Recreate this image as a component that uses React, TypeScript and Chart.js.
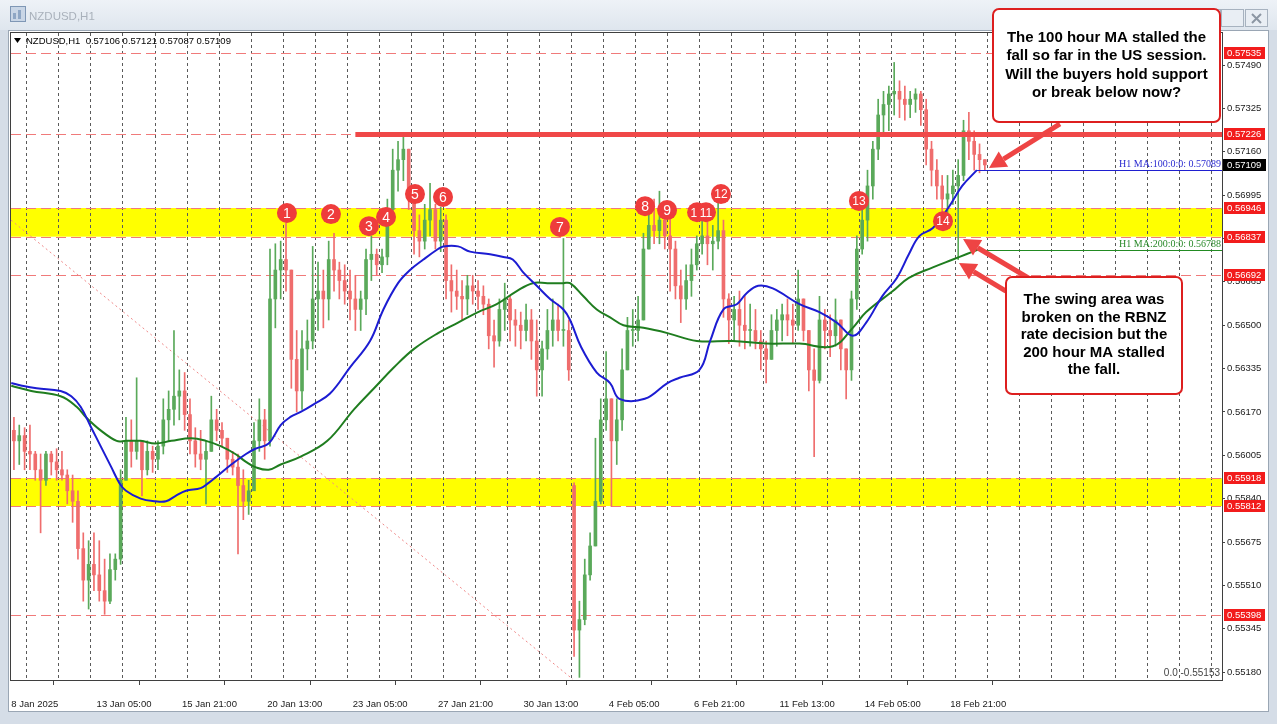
import React, { useEffect, useRef } from 'react';
import { Chart, registerables } from 'chart.js';

Chart.register(...registerables);

const W = 1277;
const H = 724;

// ---- Axis data ----
const xLabels = ['8 Jan 2025', '13 Jan 05:00', '15 Jan 21:00', '20 Jan 13:00', '23 Jan 05:00', '27 Jan 21:00', '30 Jan 13:00', '4 Feb 05:00', '6 Feb 21:00', '11 Feb 13:00', '14 Feb 05:00', '18 Feb 21:00'];
const xLabelBars = [0, 64, 128, 192, 256, 320, 384, 448, 512, 576, 640, 704];
const yTicks = [0.5518, 0.55345, 0.5551, 0.55675, 0.5584, 0.56005, 0.5617, 0.56335, 0.565, 0.56665, 0.5683, 0.56995, 0.5716, 0.57325, 0.5749];

// ---- Candles (4-hour groups of the H1 chart) ----
const HOURS_PER_CANDLE = 4;
const highs = [
  0.5615, 0.5612, 0.5611, 0.5612, 0.5602, 0.5601, 0.5602, 0.5602, 0.5603, 0.5602,
  0.5595, 0.5593, 0.5587, 0.5571, 0.5568, 0.5571, 0.5568, 0.5561, 0.5563, 0.5563,
  0.5595, 0.5615, 0.5614, 0.5630, 0.5606, 0.5606, 0.5604, 0.5606, 0.5622, 0.5625,
  0.5648, 0.5633, 0.5632, 0.5622, 0.5611, 0.5610, 0.5606, 0.5623, 0.5618, 0.5613,
  0.5607, 0.5602, 0.5601, 0.5595, 0.5591, 0.5613, 0.5622, 0.5618, 0.5679, 0.5681,
  0.5682, 0.5689, 0.5671, 0.5648, 0.5648, 0.5652, 0.5680, 0.5674, 0.5671, 0.5682,
  0.5685, 0.5674, 0.5673, 0.5671, 0.5669, 0.5663, 0.5679, 0.5684, 0.5679, 0.5679,
  0.5698, 0.5717, 0.5720, 0.5722, 0.5717, 0.5701, 0.5692, 0.5696, 0.5704, 0.5696,
  0.5695, 0.5692, 0.5673, 0.5671, 0.5667, 0.5669, 0.5669, 0.5667, 0.5665, 0.5660,
  0.5652, 0.5660, 0.5666, 0.5661, 0.5656, 0.5655, 0.5658, 0.5656, 0.5652, 0.5644,
  0.5656, 0.5660, 0.5658, 0.5683, 0.5652, 0.5590, 0.5545, 0.5561, 0.5571, 0.5607,
  0.5622, 0.5640, 0.5622, 0.5622, 0.5641, 0.5653, 0.5656, 0.5661, 0.5685, 0.5696,
  0.5698, 0.5701, 0.5696, 0.5692, 0.5682, 0.5671, 0.5673, 0.5679, 0.5684, 0.5690,
  0.5692, 0.5688, 0.5703, 0.5690, 0.5662, 0.5661, 0.5663, 0.5661, 0.5658, 0.5656,
  0.5648, 0.5644, 0.5654, 0.5656, 0.5658, 0.5660, 0.5658, 0.5671, 0.5660, 0.5648,
  0.5641, 0.5661, 0.5656, 0.5654, 0.5660, 0.5652, 0.5641, 0.5663, 0.5684, 0.5696,
  0.5709, 0.5720, 0.5736, 0.5739, 0.5741, 0.5750, 0.5743, 0.5741, 0.5739, 0.5740,
  0.5739, 0.5736, 0.5720, 0.5713, 0.5707, 0.5707, 0.5709, 0.5713, 0.5728, 0.5731,
  0.5724, 0.5719, 0.5713,
];
const lows = [
  0.5595, 0.5597, 0.5595, 0.5595, 0.5591, 0.5571, 0.5589, 0.5593, 0.5591, 0.5591,
  0.5582, 0.5575, 0.5561, 0.5545, 0.5542, 0.5549, 0.5545, 0.5540, 0.5544, 0.5553,
  0.5559, 0.5591, 0.5596, 0.5599, 0.5585, 0.5593, 0.5594, 0.5595, 0.5601, 0.5606,
  0.5612, 0.5614, 0.5610, 0.5601, 0.5596, 0.5595, 0.5582, 0.5602, 0.5606, 0.5604,
  0.5594, 0.5593, 0.5563, 0.5576, 0.5578, 0.5587, 0.5602, 0.5599, 0.5604, 0.5649,
  0.5660, 0.5663, 0.5626, 0.5617, 0.5618, 0.5633, 0.5641, 0.5648, 0.5649, 0.5652,
  0.5663, 0.5660, 0.5658, 0.5652, 0.5648, 0.5648, 0.5654, 0.5667, 0.5669, 0.5670,
  0.5673, 0.5692, 0.5701, 0.5705, 0.5694, 0.5677, 0.5676, 0.5679, 0.5684, 0.5679,
  0.5678, 0.5660, 0.5655, 0.5656, 0.5652, 0.5654, 0.5658, 0.5656, 0.5654, 0.5641,
  0.5634, 0.5642, 0.5648, 0.5644, 0.5642, 0.5641, 0.5644, 0.5637, 0.5623, 0.5623,
  0.5637, 0.5642, 0.5644, 0.5642, 0.5629, 0.5524, 0.5516, 0.5536, 0.5553, 0.5566,
  0.5582, 0.5610, 0.5581, 0.5597, 0.5610, 0.5633, 0.5642, 0.5644, 0.5652, 0.5679,
  0.5681, 0.5681, 0.5679, 0.5663, 0.5660, 0.5651, 0.5656, 0.5661, 0.5671, 0.5677,
  0.5673, 0.5671, 0.5679, 0.5653, 0.5643, 0.5644, 0.5642, 0.5641, 0.5642, 0.5641,
  0.5633, 0.5628, 0.5637, 0.5642, 0.5644, 0.5646, 0.5643, 0.5648, 0.5644, 0.5625,
  0.5600, 0.5628, 0.5641, 0.5638, 0.5642, 0.5633, 0.5622, 0.5629, 0.5656, 0.5677,
  0.5682, 0.5698, 0.5713, 0.5722, 0.5724, 0.5730, 0.5729, 0.5728, 0.5729, 0.5731,
  0.5726, 0.5711, 0.5703, 0.5698, 0.5689, 0.5692, 0.5696, 0.5675, 0.5705, 0.5713,
  0.5709, 0.5708, 0.5709,
];
const closes = [
  0.5606, 0.5608, 0.5602, 0.5601, 0.5595, 0.5591, 0.5601, 0.5598, 0.5595, 0.5593,
  0.5587, 0.5583, 0.5565, 0.5553, 0.5559, 0.5555, 0.5549, 0.5545, 0.5557, 0.5561,
  0.5591, 0.5606, 0.5602, 0.5606, 0.5595, 0.5602, 0.5599, 0.5604, 0.5614, 0.5618,
  0.5623, 0.5625, 0.5616, 0.5606, 0.5601, 0.5599, 0.5602, 0.5614, 0.5610, 0.5607,
  0.5599, 0.5596, 0.5589, 0.5583, 0.5587, 0.5606, 0.5614, 0.5606, 0.5660, 0.5671,
  0.5675, 0.5671, 0.5637, 0.5625, 0.5641, 0.5644, 0.5660, 0.5663, 0.5660, 0.5675,
  0.5671, 0.5667, 0.5663, 0.5660, 0.5656, 0.5660, 0.5675, 0.5677, 0.5673, 0.5676,
  0.5694, 0.5709, 0.5713, 0.5717, 0.5701, 0.5686, 0.5682, 0.5690, 0.5694, 0.5682,
  0.5690, 0.5667, 0.5663, 0.5661, 0.5660, 0.5665, 0.5663, 0.5661, 0.5658, 0.5646,
  0.5644, 0.5656, 0.5660, 0.5652, 0.5650, 0.5648, 0.5652, 0.5644, 0.5633, 0.5641,
  0.5648, 0.5652, 0.5648, 0.5648, 0.5633, 0.5534, 0.5538, 0.5555, 0.5566, 0.5583,
  0.5614, 0.5622, 0.5606, 0.5614, 0.5633, 0.5648, 0.5648, 0.5652, 0.5679, 0.5688,
  0.5686, 0.5690, 0.5684, 0.5679, 0.5665, 0.5660, 0.5667, 0.5673, 0.5681, 0.5684,
  0.5681, 0.5682, 0.5686, 0.5660, 0.5652, 0.5656, 0.5650, 0.5648, 0.5648, 0.5644,
  0.5641, 0.5637, 0.5648, 0.5652, 0.5654, 0.5652, 0.5650, 0.5660, 0.5648, 0.5633,
  0.5629, 0.5652, 0.5648, 0.5646, 0.5652, 0.5641, 0.5633, 0.5660, 0.5679, 0.5690,
  0.5703, 0.5717, 0.5730, 0.5734, 0.5738, 0.5739, 0.5736, 0.5734, 0.5736, 0.5738,
  0.5732, 0.5717, 0.5709, 0.5703, 0.5698, 0.5700, 0.5703, 0.5707, 0.5724, 0.5720,
  0.5715, 0.5713, 0.5711,
];
// opens follow the previous close except where price gapped
const gapOpens: Record<number, number> = { 0: 0.5610, 105: 0.5589 };

// ---- Moving averages (bar index in hours, value) ----
const ma100Bars = [0, 8, 19, 37, 45, 52, 60, 67, 75, 81, 86, 97, 108, 116, 123, 131, 142, 148, 153, 165, 176, 183, 193, 202, 209, 217, 227, 239, 254, 269, 279, 290, 299, 309, 320, 324, 335, 344, 359, 369, 376, 384, 394, 404, 414, 419, 427, 439, 449, 456, 475, 492, 501, 516, 524, 534, 544, 551, 560, 571, 591, 606, 619, 631, 641, 653, 664, 673, 681, 691, 703, 713, 724];
const ma100Vals = [0.5628, 0.5627, 0.5626, 0.5625, 0.5623, 0.5619, 0.5611, 0.5604, 0.5596, 0.5590, 0.5587, 0.5584, 0.5583, 0.5583, 0.5585, 0.5587, 0.5588, 0.5590, 0.5592, 0.5597, 0.5601, 0.5603, 0.5605, 0.5612, 0.5615, 0.5617, 0.5620, 0.5624, 0.5634, 0.5644, 0.5656, 0.5666, 0.5671, 0.5675, 0.5679, 0.5680, 0.5680, 0.5678, 0.5677, 0.5676, 0.5675, 0.5670, 0.5665, 0.5660, 0.5656, 0.5652, 0.5642, 0.5632, 0.5628, 0.5622, 0.5622, 0.5628, 0.5630, 0.5633, 0.5644, 0.5656, 0.5658, 0.5662, 0.5665, 0.5664, 0.5658, 0.5655, 0.5651, 0.5646, 0.5651, 0.5661, 0.5668, 0.5677, 0.5684, 0.5687, 0.5695, 0.5703, 0.5709];
const ma200Bars = [0, 15, 37, 49, 56, 67, 79, 86, 97, 108, 120, 135, 146, 157, 168, 176, 183, 193, 202, 217, 237, 257, 272, 287, 302, 320, 335, 350, 364, 379, 391, 402, 414, 419, 429, 439, 449, 459, 474, 492, 514, 541, 566, 591, 616, 631, 641, 661, 673, 691, 706, 716, 726];
const ma200Vals = [0.5627, 0.5625, 0.5623, 0.5619, 0.5615, 0.5610, 0.5606, 0.5606, 0.5606, 0.5605, 0.5606, 0.5607, 0.5606, 0.5604, 0.5601, 0.5598, 0.5596, 0.5595, 0.5597, 0.5600, 0.5606, 0.5618, 0.5626, 0.5634, 0.5641, 0.5647, 0.5651, 0.5655, 0.5658, 0.5663, 0.5666, 0.5666, 0.5666, 0.5666, 0.5661, 0.5656, 0.5653, 0.5650, 0.5649, 0.5647, 0.5644, 0.5644, 0.5643, 0.5643, 0.5642, 0.5649, 0.5655, 0.5663, 0.5668, 0.5672, 0.5675, 0.5677, 0.5679];
const ma100Last = 0.57089;
const ma200Last = 0.56788;
const lastPrice = 0.57109;

// ---- Levels and annotations ----
const levels = [0.57535, 0.57226, 0.56946, 0.56837, 0.56692, 0.55918, 0.55812, 0.55398];
const bands = [[0.56837, 0.56946], [0.55812, 0.55918]];
const keyLevel = 0.57226;
const keyLevelStartBar = 258;
const fibStart = { bar: -0.2, price: 0.5690 };
const fibEnd = { bar: 421, price: 0.55153 };
const markerBars = [206.7, 239.7, 268.2, 281, 302.7, 323.7, 411.4, 475.2, 491.7, 514.2, 520.9, 532.1, 635.6, 698.6];
const markerPrices = [0.56927, 0.56923, 0.56877, 0.56912, 0.56999, 0.56988, 0.56874, 0.56953, 0.56938, 0.5693, 0.5693, 0.56999, 0.56973, 0.56896];
const markerLabels = ['1', '2', '3', '4', '5', '6', '7', '8', '9', '10', '11', '12', '13', '14'];
const arrows = [
  { from: [786.3, 0.57266], to: [733.1, 0.57098] },
  { from: [763.8, 0.56676], to: [713.6, 0.56828] },
  { from: [745.8, 0.5663], to: [710.6, 0.56737] },
];
const note1 = ['The 100 hour MA stalled the', 'fall so far in the US session.', 'Will the buyers hold support', 'or break below now?'];
const note2 = ['The swing area was', 'broken on the RBNZ', 'rate decision but the', '200 hour MA stalled', 'the fall.'];

const BULL = '#5aa95a';
const BEAR = '#ef6d6d';
const FONT = '"Liberation Sans", Arial, sans-serif';

function buildCandles() {
  return closes.map((c, i) => {
    const o = gapOpens[i] !== undefined ? gapOpens[i] : closes[i - 1];
    return { t: i * HOURS_PER_CANDLE + 2, o, h: highs[i], l: lows[i], c };
  });
}

function drawArrow(ctx: CanvasRenderingContext2D, x1: number, y1: number, x2: number, y2: number) {
  const a = Math.atan2(y2 - y1, x2 - x1);
  const hl = 17, hw = 9;
  const bx = x2 - hl * Math.cos(a), by = y2 - hl * Math.sin(a);
  ctx.strokeStyle = '#ee4444';
  ctx.fillStyle = '#ee4444';
  ctx.lineWidth = 5;
  ctx.lineCap = 'butt';
  ctx.beginPath();
  ctx.moveTo(x1, y1);
  ctx.lineTo(bx, by);
  ctx.stroke();
  ctx.beginPath();
  ctx.moveTo(x2, y2);
  ctx.lineTo(bx + hw * Math.sin(a), by - hw * Math.cos(a));
  ctx.lineTo(bx - hw * Math.sin(a), by + hw * Math.cos(a));
  ctx.closePath();
  ctx.fill();
}

function drawNote(ctx: CanvasRenderingContext2D, x: number, y: number, w: number, h: number, lines: string[], firstY: number, step: number) {
  ctx.beginPath();
  (ctx as any).roundRect(x, y, w, h, 6);
  ctx.fillStyle = '#ffffff';
  ctx.fill();
  ctx.lineWidth = 2;
  ctx.strokeStyle = '#dd1f1f';
  ctx.stroke();
  ctx.fillStyle = '#000000';
  ctx.font = `bold 15px ${FONT}`;
  ctx.textAlign = 'center';
  ctx.textBaseline = 'middle';
  lines.forEach((t, i) => ctx.fillText(t, x + w / 2, firstY + i * step));
}

const mt4Plugin = {
  id: 'mt4',
  beforeDraw(chart: any) {
    const ctx: CanvasRenderingContext2D = chart.ctx;
    ctx.save();
    ctx.fillStyle = '#ffffff';
    ctx.fillRect(0, 0, W, H);
    const g = ctx.createLinearGradient(0, 0, 0, 30);
    g.addColorStop(0, '#eef2f7');
    g.addColorStop(1, '#dfe6ee');
    ctx.fillStyle = g;
    ctx.fillRect(0, 0, W, 30);
    ctx.fillStyle = '#d5dde7';
    ctx.fillRect(0, 30, 8, H - 30);
    ctx.fillRect(1269, 30, 8, H - 30);
    ctx.fillRect(0, 712, W, 12);
    ctx.strokeStyle = '#9aa6b4';
    ctx.lineWidth = 1;
    ctx.strokeRect(8.5, 30.5, 1260, 681);
    // window icon
    ctx.fillStyle = '#c9d6e6';
    ctx.fillRect(10, 6, 16, 16);
    ctx.strokeStyle = '#7f97b5';
    ctx.strokeRect(10.5, 6.5, 15, 15);
    ctx.fillStyle = '#8ea6c4';
    ctx.fillRect(13, 13, 3, 6);
    ctx.fillRect(18, 10, 3, 9);
    // title
    ctx.fillStyle = '#a9b1bb';
    ctx.font = `11.5px ${FONT}`;
    ctx.textBaseline = 'middle';
    ctx.textAlign = 'left';
    ctx.fillText('NZDUSD,H1', 29, 17);
    // window buttons
    const btn = (x: number) => {
      ctx.fillStyle = '#e9eef4';
      ctx.fillRect(x, 9, 23, 18);
      ctx.strokeStyle = '#a7b2bf';
      ctx.strokeRect(x + 0.5, 9.5, 22, 17);
    };
    btn(1198);
    btn(1221);
    btn(1245);
    ctx.strokeStyle = '#8c96a3';
    ctx.lineWidth = 2;
    ctx.beginPath();
    ctx.moveTo(1252, 14); ctx.lineTo(1261, 23);
    ctx.moveTo(1261, 14); ctx.lineTo(1252, 23);
    ctx.stroke();
    ctx.restore();
  },
  beforeDatasetsDraw(chart: any) {
    const ctx: CanvasRenderingContext2D = chart.ctx;
    const a = chart.chartArea;
    const xs = chart.scales.x, ys = chart.scales.y;
    ctx.save();
    ctx.beginPath();
    ctx.rect(a.left, a.top, a.right - a.left, a.bottom - a.top);
    ctx.clip();
    // yellow swing areas
    ctx.fillStyle = '#ffff00';
    bands.forEach(([lo, hi]) => {
      const y1 = ys.getPixelForValue(hi), y2 = ys.getPixelForValue(lo);
      ctx.fillRect(a.left, y1, a.right - a.left, y2 - y1);
    });
    // vertical day grid
    ctx.strokeStyle = '#5a5a5a';
    ctx.lineWidth = 1;
    ctx.setLineDash([3, 3]);
    for (let b = 11.4; b < xs.max; b += 24) {
      const x = Math.round(xs.getPixelForValue(b)) + 0.5;
      ctx.beginPath();
      ctx.moveTo(x, a.top);
      ctx.lineTo(x, a.bottom);
      ctx.stroke();
    }
    // dashed red levels
    ctx.strokeStyle = '#f07a7a';
    ctx.setLineDash([10, 5]);
    levels.forEach((lv) => {
      const y = Math.round(ys.getPixelForValue(lv)) + 0.5;
      ctx.beginPath();
      ctx.moveTo(a.left, y);
      ctx.lineTo(a.right, y);
      ctx.stroke();
    });
    // fibonacci trend line
    ctx.strokeStyle = '#f08a8a';
    ctx.setLineDash([2, 3]);
    ctx.beginPath();
    ctx.moveTo(xs.getPixelForValue(fibStart.bar), ys.getPixelForValue(fibStart.price));
    ctx.lineTo(xs.getPixelForValue(fibEnd.bar), ys.getPixelForValue(fibEnd.price));
    ctx.stroke();
    ctx.setLineDash([]);
    ctx.restore();
  },
  afterDatasetsDraw(chart: any) {
    const ctx: CanvasRenderingContext2D = chart.ctx;
    const a = chart.chartArea;
    const xs = chart.scales.x, ys = chart.scales.y;
    ctx.save();
    // key resistance line
    ctx.strokeStyle = '#f04848';
    ctx.lineWidth = 5;
    const ky = ys.getPixelForValue(keyLevel);
    ctx.beginPath();
    ctx.moveTo(xs.getPixelForValue(keyLevelStartBar), ky);
    ctx.lineTo(a.right, ky);
    ctx.stroke();
    // MA value lines
    ctx.lineWidth = 1;
    ctx.strokeStyle = '#1f1fd0';
    let y = Math.round(ys.getPixelForValue(ma100Last)) + 0.5;
    ctx.beginPath();
    ctx.moveTo(xs.getPixelForValue(ma100Bars[ma100Bars.length - 1]), y);
    ctx.lineTo(a.right, y);
    ctx.stroke();
    ctx.fillStyle = '#2b2bd0';
    ctx.font = '10px "Liberation Serif", serif';
    ctx.textAlign = 'right';
    ctx.textBaseline = 'bottom';
    ctx.fillText('H1 MA:100:0:0: ' + ma100Last.toFixed(5), a.right - 1, y - 1);
    ctx.strokeStyle = '#228b22';
    y = Math.round(ys.getPixelForValue(ma200Last)) + 0.5;
    ctx.beginPath();
    ctx.moveTo(xs.getPixelForValue(ma200Bars[ma200Bars.length - 1]), y);
    ctx.lineTo(a.right, y);
    ctx.stroke();
    ctx.fillStyle = '#2a8a2a';
    ctx.fillText('H1 MA:200:0:0: ' + ma200Last.toFixed(5), a.right - 1, y - 1);
    // fib 0.0 label
    ctx.fillStyle = '#444444';
    ctx.font = `10px ${FONT}`;
    ctx.textBaseline = 'middle';
    ctx.fillText('0.0 -' + fibEnd.price.toFixed(5), a.right - 2, ys.getPixelForValue(fibEnd.price) - 6);
    // numbered markers
    markerLabels.forEach((lab, i) => {
      const cx = xs.getPixelForValue(markerBars[i]);
      const cy = ys.getPixelForValue(markerPrices[i]);
      ctx.beginPath();
      ctx.arc(cx, cy, 10, 0, Math.PI * 2);
      ctx.fillStyle = '#ee3c3c';
      ctx.fill();
      ctx.fillStyle = '#ffffff';
      ctx.font = `${lab.length > 1 ? 12 : 14}px ${FONT}`;
      ctx.textAlign = 'center';
      ctx.textBaseline = 'middle';
      ctx.fillText(lab, cx, cy + 1);
    });
    // header
    ctx.fillStyle = '#000000';
    ctx.beginPath();
    ctx.moveTo(14, 38); ctx.lineTo(21, 38); ctx.lineTo(17.5, 43);
    ctx.closePath();
    ctx.fill();
    ctx.font = `9.5px ${FONT}`;
    ctx.textAlign = 'left';
    ctx.textBaseline = 'middle';
    ctx.fillText('NZDUSD,H1  0.57106 0.57121 0.57087 0.57109', 26, 41);
    ctx.restore();
  },
  afterDraw(chart: any) {
    const ctx: CanvasRenderingContext2D = chart.ctx;
    const a = chart.chartArea;
    const xs = chart.scales.x, ys = chart.scales.y;
    ctx.save();
    ctx.strokeStyle = '#3f3f3f';
    ctx.lineWidth = 1;
    ctx.strokeRect(a.left - 0.5, a.top - 0.5, a.right - a.left + 1, a.bottom - a.top + 1);
    // price labels on axis
    ctx.font = `9.5px ${FONT}`;
    ctx.textAlign = 'left';
    ctx.textBaseline = 'middle';
    levels.forEach((lv) => {
      const y = Math.round(ys.getPixelForValue(lv));
      ctx.fillStyle = '#f21c1c';
      ctx.fillRect(a.right + 2, y - 6, 41, 12);
      ctx.fillStyle = '#ffffff';
      ctx.fillText(lv.toFixed(5), a.right + 5, y);
    });
    const ly = Math.round(ys.getPixelForValue(lastPrice));
    ctx.fillStyle = '#000000';
    ctx.fillRect(a.right + 1, ly - 6, 43, 12);
    ctx.fillStyle = '#ffffff';
    ctx.fillText(lastPrice.toFixed(5), a.right + 5, ly);
    // arrows
    arrows.forEach((ar) => {
      drawArrow(ctx,
        xs.getPixelForValue(ar.from[0]), ys.getPixelForValue(ar.from[1]),
        xs.getPixelForValue(ar.to[0]), ys.getPixelForValue(ar.to[1]));
    });
    // notes
    drawNote(ctx, 993, 9, 227, 113, note1, 38, 18.3);
    drawNote(ctx, 1006, 277, 176, 117, note2, 300, 17.5);
    ctx.restore();
  },
};

export default function App() {
  const ref = useRef<HTMLCanvasElement>(null);
  useEffect(() => {
    const canvas = ref.current;
    if (!canvas) return;
    const candles = buildCandles();
    const colors = candles.map((k) => (k.c >= k.o ? BULL : BEAR));
    const chart = new Chart(canvas, {
      type: 'bar',
      data: {
        datasets: [
          {
            type: 'line',
            label: 'MA100',
            data: ma100Bars.map((b, i) => ({ x: b, y: ma100Vals[i] })),
            borderColor: '#1c1cd2',
            borderWidth: 2,
            pointRadius: 0,
            tension: 0.4,
            order: 1,
          } as any,
          {
            type: 'line',
            label: 'MA200',
            data: ma200Bars.map((b, i) => ({ x: b, y: ma200Vals[i] })),
            borderColor: '#1f7d1f',
            borderWidth: 2,
            pointRadius: 0,
            tension: 0.4,
            order: 2,
          } as any,
          {
            type: 'bar',
            label: 'bodies',
            data: candles.map((k) => ({ x: k.t, y: [Math.min(k.o, k.c), Math.max(k.o, k.c)] })),
            backgroundColor: colors,
            barThickness: 3,
            minBarLength: 1,
            grouped: false,
            order: 3,
          } as any,
          {
            type: 'bar',
            label: 'wicks',
            data: candles.map((k) => ({ x: k.t, y: [k.l, k.h] })),
            backgroundColor: colors,
            barThickness: 1,
            grouped: false,
            order: 4,
          } as any,
        ],
      },
      options: {
        animation: false,
        responsive: false,
        events: [],
        layout: { padding: { left: 11, top: 33, right: 0, bottom: 0 } },
        plugins: { legend: { display: false }, tooltip: { enabled: false } },
        scales: {
          x: {
            type: 'linear',
            position: 'bottom',
            min: -0.2,
            max: 907.8,
            offset: false,
            afterBuildTicks: (s: any) => {
              s.ticks = xLabelBars.map((v) => ({ value: v }));
            },
            afterFit: (s: any) => {
              s.height = 44;
              s.paddingLeft = 0;
              s.paddingRight = 0;
            },
            ticks: {
              autoSkip: false,
              maxRotation: 0,
              minRotation: 0,
              align: 'start',
              padding: 14,
              color: '#1a1a1a',
              font: { family: 'Liberation Sans', size: 9.5 },
              callback: (_v: any, i: number) => xLabels[i],
            },
            grid: { drawOnChartArea: false, drawTicks: true, tickLength: 5, color: '#444444' },
            border: { display: true, color: '#3f3f3f' },
          },
          y: {
            type: 'linear',
            position: 'right',
            min: 0.5515,
            max: 0.57612,
            afterBuildTicks: (s: any) => {
              s.ticks = yTicks.map((v) => ({ value: v }));
            },
            afterFit: (s: any) => {
              s.width = 55;
              s.paddingTop = 0;
              s.paddingBottom = 0;
            },
            ticks: {
              padding: 2,
              color: '#1a1a1a',
              font: { family: 'Liberation Sans', size: 9.5 },
              callback: (v: any) => Number(v).toFixed(5),
            },
            grid: { drawOnChartArea: false, drawTicks: true, tickLength: 3, color: '#444444' },
            border: { display: true, color: '#3f3f3f' },
          },
        } as any,
      },
      plugins: [mt4Plugin as any],
    } as any);
    return () => chart.destroy();
  }, []);
  return (
    <div style={{ position: 'fixed', left: 0, top: 0, width: W, height: H, background: '#ffffff' }}>
      <canvas ref={ref} width={W} height={H} style={{ display: 'block', width: W, height: H }} />
    </div>
  );
}
